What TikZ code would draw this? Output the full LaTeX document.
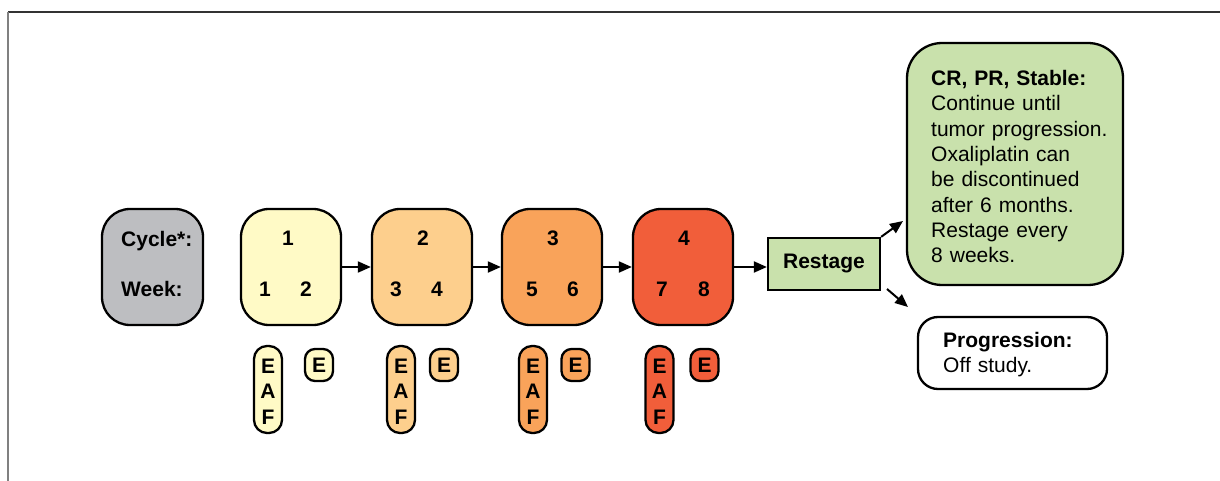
\documentclass[tikz,border=0pt]{standalone}
\usepackage{fontspec}
\setmainfont{Liberation Sans}
\usetikzlibrary{arrows.meta}
\definecolor{cyc1}{HTML}{FFFAC6}
\definecolor{cyc2}{HTML}{FDCF8D}
\definecolor{cyc3}{HTML}{F9A35A}
\definecolor{cyc4}{HTML}{F15E3A}
\definecolor{grayfill}{HTML}{BDBEC1}
\definecolor{greenfill}{HTML}{C9E1AC}
\begin{document}
\begin{tikzpicture}[x=1pt,y=-1pt,
  box/.style={draw,line width=2.3pt,rounded corners=28pt,minimum width=100pt,minimum height=116pt,inner sep=0pt},
  pill/.style={draw,line width=2.3pt,rounded corners=13pt,minimum width=28pt,inner sep=0pt},
  lab/.style={font=\fontsize{21}{25.3}\selectfont\bfseries,inner sep=0pt},
  body/.style={font=\fontsize{21}{25.3}\selectfont,inner sep=0pt,align=left},
  arr/.style={line width=2pt,-{Triangle[length=13pt,width=11pt]}}
]
\useasboundingbox (0,0) rectangle (1220,481);
% frame
\draw[line width=1.3pt,black!80] (8,12) -- (1220,12);
\draw[line width=2pt,black!50] (8,12) -- (8,481);
% header box
\node[box,fill=grayfill,minimum width=101pt] (head) at (152.5,267) {};
\node[lab,anchor=base west] (hcyc) at (121,246.5) {Cycle*:};
\node[lab,anchor=base west] (hweek) at (121,296) {Week:};
% cycles
\foreach \i/\cx/\col/\tx/\na/\nb/\ax/\bx/\px/\ex in {
 1/291/cyc1/288/1/2/265/306/268/319,
 2/422/cyc2/423/3/4/396/437/401/444,
 3/552/cyc3/553/5/6/532/573/533/575.5,
 4/683/cyc4/684/7/8/662/704/659.5/704.5}{
  \node[box,fill=\col] (cyc\i) at (\cx,267) {};
  \node[lab,anchor=base] (num\i) at (\tx,245.5) {\i};
  \node[lab,anchor=base] (wka\i) at (\ax,296) {\na};
  \node[lab,anchor=base] (wkb\i) at (\bx,296) {\nb};
  \node[pill,fill=\col,minimum height=87pt] (eaf\i) at (\px,389.5) {};
  \node[lab,anchor=base] (eafE\i) at (\px,373) {E};
  \node[lab,anchor=base] (eafA\i) at (\px,398.5) {A};
  \node[lab,anchor=base] (eafF\i) at (\px,424) {F};
  \node[pill,fill=\col,minimum height=32pt,rounded corners=10pt] (ep\i) at (\ex,365) {};
  \node[lab,anchor=base] (epE\i) at (\ex,372.5) {E};
}
\foreach \a/\b in {1/2,2/3,3/4}
  \draw[arr] (cyc\a.east) -- (cyc\b.west);
% restage
\node[draw,line width=2.3pt,fill=greenfill,minimum width=112pt,minimum height=52pt,inner sep=0pt,lab] (restage) at (824,264) {Restage};
\draw[arr] (cyc4.east) -- (cyc4.east -| restage.west);
% outcomes
\node[draw,line width=2.3pt,fill=greenfill,rounded corners=35pt,minimum width=216pt,minimum height=242pt] (cont) at (1015,164) {};
\node[body,anchor=base west,text width=190pt] (conttext) at (931,85.7) {\textbf{CR, PR, Stable:}\\Continue until\\tumor progression.\\Oxaliplatin can\\be discontinued\\after 6 months.\\Restage every\\8 weeks.};
\node[draw,line width=2.3pt,fill=white,rounded corners=20pt,minimum width=189pt,minimum height=72pt] (prog) at (1012.5,353) {};
\node[body,anchor=base west,text width=160pt] (progtext) at (943,347) {\textbf{Progression:}\\Off study.};
\coordinate (upend) at (903,221);
\coordinate (lostart) at (887,289);
\coordinate (loend) at (908,307);
\draw[arr] (restage.north east) -- (upend);
\draw[arr] (lostart) -- (loend);
\end{tikzpicture}
\end{document}
